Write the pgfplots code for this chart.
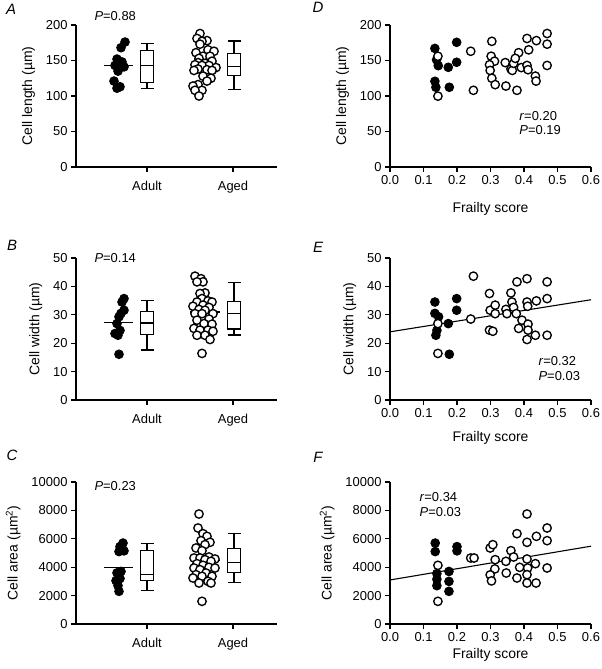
\documentclass[border=0pt]{standalone}
\usepackage{fontspec}
\setmainfont{Liberation Sans}
\usepackage{pgfplots}
\pgfplotsset{compat=1.18}
\usepgfplotslibrary{statistics}
\newcommand{\fs}{\fontsize{13}{15}\selectfont}
\newcommand{\fl}{\fontsize{14}{16}\selectfont}
\pgfplotsset{
 panel/.style={scale only axis, width=201bp, height=142bp, anchor=south west,
   axis lines*=left, axis line style={line width=1.1bp},
   tick style={line width=1.1bp, black}, tick align=outside, major tick length=5bp,
   tick label style={font=\fs},
   label style={font=\fl}, ylabel shift=4bp,
   scaled y ticks=false, scaled x ticks=false,
   /pgf/number format/assume math mode=true, /pgf/number format/1000 sep={},
   clip=false, ymin=0},
 lpanel/.style={panel, xmin=0, xmax=201, xtick={71,157}, xticklabels={Adult,Aged},
   x tick label style={yshift=-6bp}},
 rpanel/.style={panel, xmin=0, xmax=0.6, xtick={0,0.1,0.2,0.3,0.4,0.5,0.6},
   xticklabel style={/pgf/number format/.cd, fixed, fixed zerofill, precision=1},
   xlabel={Frailty score}},
 fil/.style={only marks, mark=*, mark size=4.3bp, mark options={fill=black, draw=black, line width=1bp}},
 opn/.style={only marks, mark=*, mark size=4.2bp, mark options={fill=white, draw=black, line width=1.35bp}},
 bx/.style={black, line width=1.1bp, fill=white},
 mn/.style={black, line width=1.1bp},
 boxplot/draw direction=y, boxplot/box extend=13, boxplot/whisker extend=13,
}
\begin{document}
\begin{tikzpicture}
\useasboundingbox (0,0) rectangle (602bp,669bp);
% ---------------- A
\begin{axis}[lpanel, at={(76bp,502bp)}, ymax=200, ytick={0,50,100,150,200}, ylabel={Cell length (µm)}]
\addplot[fil] coordinates {(49,176) (45,168) (41,152) (46,148) (39,143) (48,141) (42,135) (38,121) (44,113) (41,111)};
\addplot[opn] coordinates {(124,188) (121,181) (131,178) (126,177) (124,173) (132,165) (138,163) (120,161) (127,156) (134,156) (123,153) (136,149) (122,147) (129,146) (119,144) (133,143) (126,143) (140,140) (122,138) (131,137) (118,136) (136,136) (127,128) (135,125) (131,121) (122,116) (117,114) (126,108) (119,108) (123,100)};
\addplot[mn] coordinates {(28,142.4) (57,142.4)};
\addplot[mn] coordinates {(114,143.8) (144,143.8)};
\addplot[bx, boxplot prepared={draw position=71, lower whisker=111, lower quartile=119, median=142.4, upper quartile=164, upper whisker=173.3}] coordinates {};
\addplot[bx, boxplot prepared={draw position=158, lower whisker=109.6, lower quartile=129, median=141.5, upper quartile=160, upper whisker=177.5}] coordinates {};
\node[font=\fs, anchor=west] at (axis cs:15,212) {\textit{P}=0.88};
\end{axis}
% ---------------- B
\begin{axis}[lpanel, at={(76bp,269bp)}, ymax=50, ytick={0,10,20,30,40,50}, ylabel={Cell width (µm)}]
\addplot[fil] coordinates {(48,35.7) (46,34.5) (48,31.6) (45,30.5) (43,29.3) (41,26.9) (44,24.5) (39,23.4) (42,22.8) (43,16.1)};
\addplot[opn] coordinates {(119,43.6) (125,42.7) (127,41.6) (121,41.6) (129,37.7) (124,37.5) (126,35.7) (132,34.9) (121,34.5) (136,34.5) (127,33.4) (117,33) (133,32.6) (123,31.9) (129,31.6) (137,30.4) (119,30.4) (126,30.4) (133,28.5) (121,28.1) (128,26.9) (136,26.7) (118,25.2) (124,24.6) (132,24.6) (137,24.2) (121,22.8) (129,22.8) (134,21.3) (126,16.4)};
\addplot[mn] coordinates {(28,27.4) (57,27.4)};
\addplot[mn] coordinates {(114,31.0) (144,31.0)};
\addplot[bx, boxplot prepared={draw position=71, lower whisker=17.6, lower quartile=23.1, median=27.1, upper quartile=31.3, upper whisker=35.1}] coordinates {};
\addplot[bx, boxplot prepared={draw position=158, lower whisker=22.9, lower quartile=25, median=30.5, upper quartile=34.8, upper whisker=41.3}] coordinates {};
\node[font=\fs, anchor=west] at (axis cs:15,50) {\textit{P}=0.14};
\end{axis}
% ---------------- C
\begin{axis}[lpanel, at={(76bp,45bp)}, ymax=10000, ytick={0,2000,4000,6000,8000,10000}, ylabel={Cell area (µm\textsuperscript{2})}]
\addplot[fil] coordinates {(47,5700) (44,5450) (48,5150) (43,5100) (45,3700) (41,3600) (44,3200) (40,3050) (42,2700) (43,2300)};
\addplot[opn] coordinates {(123,7746) (122,6761) (127,6361) (131,6174) (125,5869) (134,5751) (129,5587) (120,5352) (126,5164) (133,4718) (118,4648) (124,4648) (139,4577) (129,4530) (135,4413) (121,4249) (127,4131) (133,3990) (118,3944) (139,3944) (124,3826) (130,3592) (120,3474) (136,3357) (126,3357) (117,3239) (132,3005) (135,2887) (123,2887) (126,1596)};
\addplot[mn] coordinates {(28,3976) (57,3976)};
\addplot[mn] coordinates {(114,4470) (144,4470)};
\addplot[bx, boxplot prepared={draw position=71, lower whisker=2376, lower quartile=3035, median=3506, upper quartile=5153, upper whisker=5647}] coordinates {};
\addplot[bx, boxplot prepared={draw position=158, lower whisker=2941, lower quartile=3624, median=4329, upper quartile=5318, upper whisker=6353}] coordinates {};
\node[font=\fs, anchor=west] at (axis cs:15,9740) {\textit{P}=0.23};
\end{axis}
% ---------------- D
\begin{axis}[rpanel, at={(390bp,502bp)}, ymax=200, ytick={0,50,100,150,200}, ylabel={Cell length (µm)}, xlabel style={yshift=-11bp}]
\addplot[fil] coordinates {(0.134,167) (0.199,175.6) (0.139,151) (0.144,142.7) (0.174,140.4) (0.199,147.5) (0.134,120.7) (0.137,112.3) (0.177,112.3)};
\addplot[opn] coordinates {(0.143,156) (0.143,99.8) (0.241,163) (0.249,108) (0.304,177) (0.302,156) (0.312,149) (0.297,144) (0.299,136) (0.304,125) (0.314,116) (0.346,114) (0.344,147) (0.361,138) (0.365,136) (0.369,146) (0.379,108) (0.384,161) (0.374,153) (0.409,181) (0.414,165) (0.437,178) (0.469,188) (0.469,173) (0.469,143) (0.392,140) (0.409,143) (0.412,137) (0.434,128) (0.436,121)};
\node[font=\fs, anchor=west] at (axis cs:0.376,72) {\textit{r}=0.20};
\node[font=\fs, anchor=west] at (axis cs:0.376,52) {\textit{P}=0.19};
\end{axis}
% ---------------- E
\begin{axis}[rpanel, at={(390bp,269bp)}, ymax=50, ytick={0,10,20,30,40,50}, ylabel={Cell width (µm)}, xlabel style={yshift=-7bp}]
\addplot[fil] coordinates {(0.134,34.5) (0.134,30.5) (0.145,29.3) (0.140,24.5) (0.137,22.8) (0.174,26.9) (0.199,35.7) (0.199,31.6) (0.177,16.1)};
\addplot[opn] coordinates {(0.143,26.9) (0.143,16.4) (0.241,28.5) (0.249,43.6) (0.297,37.5) (0.299,31.6) (0.314,33.4) (0.314,30.4) (0.297,24.6) (0.307,24.2) (0.346,31.9) (0.349,30.4) (0.361,37.7) (0.364,34.5) (0.369,32.6) (0.379,41.6) (0.377,30.4) (0.394,28.1) (0.384,25.2) (0.409,42.7) (0.409,34.5) (0.411,33) (0.412,26.7) (0.412,24.6) (0.409,21.3) (0.437,34.9) (0.434,22.8) (0.469,41.6) (0.469,35.7) (0.469,22.8)};
\addplot[mn] coordinates {(0,24.0) (0.6,35.3)};
\node[font=\fs, anchor=west] at (axis cs:0.433,13.7) {\textit{r}=0.32};
\node[font=\fs, anchor=west] at (axis cs:0.433,8.4) {\textit{P}=0.03};
\end{axis}
% ---------------- F
\begin{axis}[rpanel, at={(390bp,45bp)}, ymax=10000, ytick={0,2000,4000,6000,8000,10000}, ylabel={Cell area (µm\textsuperscript{2})}]
\addplot[fil] coordinates {(0.135,5700) (0.135,5100) (0.2,5450) (0.2,5150) (0.14,3550) (0.14,3150) (0.14,2700) (0.176,3700) (0.176,3000) (0.176,2300)};
\addplot[opn] coordinates {(0.143,4131) (0.143,1596) (0.241,4648) (0.251,4648) (0.299,5352) (0.307,5587) (0.314,4530) (0.313,3880) (0.299,3458) (0.303,3035) (0.346,4413) (0.347,3592) (0.361,5164) (0.369,4718) (0.379,6361) (0.379,3239) (0.387,3990) (0.409,7746) (0.409,5751) (0.409,4577) (0.411,3944) (0.409,3474) (0.409,2887) (0.437,6174) (0.434,4249) (0.436,2887) (0.469,6761) (0.469,5869) (0.469,3944)};
\addplot[mn] coordinates {(0,3100) (0.6,5480)};
\node[font=\fs, anchor=west] at (axis cs:0.078,8950) {\textit{r}=0.34};
\node[font=\fs, anchor=west] at (axis cs:0.078,7850) {\textit{P}=0.03};
\end{axis}
% panel letters
\node[font=\fontsize{15}{17}\selectfont\itshape] at (11bp,660bp) {A};
\node[font=\fontsize{15}{17}\selectfont\itshape] at (12bp,424bp) {B};
\node[font=\fontsize{15}{17}\selectfont\itshape] at (12bp,214bp) {C};
\node[font=\fontsize{15}{17}\selectfont\itshape] at (318bp,662bp) {D};
\node[font=\fontsize{15}{17}\selectfont\itshape] at (318bp,422bp) {E};
\node[font=\fontsize{15}{17}\selectfont\itshape] at (318bp,212bp) {F};
\end{tikzpicture}
\end{document}
